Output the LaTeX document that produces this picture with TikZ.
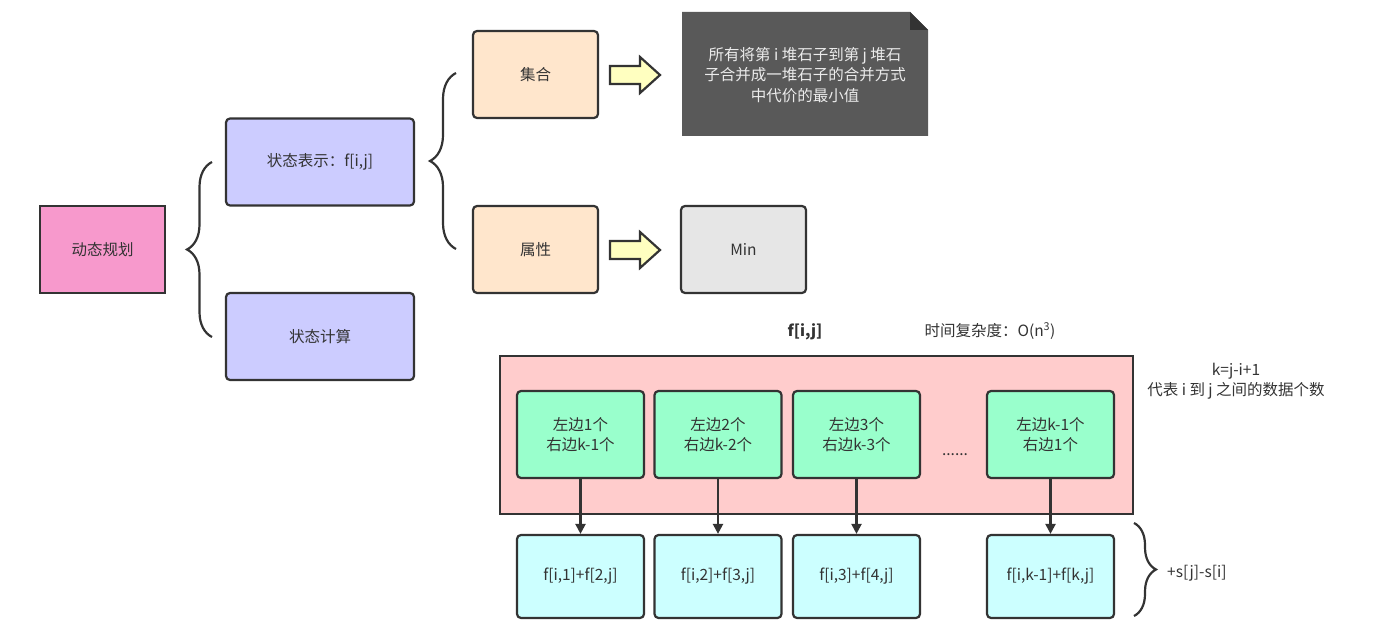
\documentclass[tikz,border=0pt]{standalone}
\usepackage{fontspec}
\setmainfont{Noto Sans CJK SC}
\usetikzlibrary{arrows.meta,decorations.pathreplacing}
\definecolor{ink}{HTML}{333333}
\definecolor{pinkA}{HTML}{F799CC}
\definecolor{lilac}{HTML}{CCCCFF}
\definecolor{peach}{HTML}{FFE6CC}
\definecolor{notegray}{HTML}{595959}
\definecolor{lightgray}{HTML}{E6E6E6}
\definecolor{rosebg}{HTML}{FFCCCC}
\definecolor{mint}{HTML}{99FFCC}
\definecolor{cyanA}{HTML}{CCFFFF}
\definecolor{pale}{HTML}{FFFFC0}
\tikzset{
  box/.style={draw=ink, line width=2.2pt, rounded corners=4pt, text=ink, align=center,
    minimum width=125pt, minimum height=87pt, inner sep=0pt, font=\fontsize{15.5}{20}\selectfont},
  widebox/.style={box, minimum width=188pt},
  brc/.style={draw=ink, line width=2.2pt, decorate, decoration={brace, amplitude=#1}},
  conn/.style={draw=ink, line width=2.2pt, -{Triangle[length=10pt,width=10pt]}},
  lbl/.style={text=ink, font=\fontsize{15.5}{20.5}\selectfont, align=center, inner sep=0pt},
  blockarrow/.style={draw=ink, line width=2.2pt, fill=pale, line join=miter}
}
\begin{document}
\begin{tikzpicture}[x=1pt,y=-1pt]
\useasboundingbox (0,0) rectangle (1387,636);
% left part
\node[box, rounded corners=0pt, fill=pinkA] (dp) at (102.5,249.5) {动态规划};
\node[widebox, fill=lilac] (rep) at (320,162) {状态表示：f[i,j]};
\node[widebox, fill=lilac] (calc) at (320,336.5) {状态计算};
\coordinate (b1s) at (212,337);
\coordinate (b1e) at (212,162);
\draw[brc=25pt] (b1s) -- (b1e);
\node[box, fill=peach] (set) at (535.5,74.5) {集合};
\node[box, fill=peach] (attr) at (535.5,249.5) {属性};
\coordinate (b2s) at (456,249);
\coordinate (b2e) at (456,73);
\draw[brc=26pt] (b2s) -- (b2e);
% block arrows
\draw[blockarrow] (610,66) -- (640,66) -- (640,57) -- (660,75) -- (640,93) -- (640,84) -- (610,84) -- cycle;
\draw[blockarrow] (610,241) -- (640,241) -- (640,232) -- (660,250) -- (640,268) -- (640,259) -- (610,259) -- cycle;
% note
\fill[notegray] (682,12) -- (910,12) -- (928,30) -- (928,136) -- (682,136) -- cycle;
\fill[ink] (910,12) -- (928,30) -- (910,30) -- cycle;
\node[lbl, text=white!92!black] (note) at (805,75) {所有将第 i 堆石子到第 j 堆石\\子合并成一堆石子的合并方式\\中代价的最小值};
\node[box, fill=lightgray] (min) at (743.5,249.5) {Min};
% titles
\node[lbl, font=\fontsize{15.5}{20}\selectfont\bfseries] (fij) at (805,332) {f[i,j]};
\node[lbl] (cplx) at (990,331) {时间复杂度：O(n\textsuperscript{3})};
% big pink container
\node[draw=ink, line width=2.2pt, fill=rosebg, minimum width=633pt, minimum height=158pt, inner sep=0pt] (cont) at (816.5,435) {};
\node[lbl] (kdef) at (1236,381) {k=j-i+1\\代表 i 到 j 之间的数据个数};
% green boxes
\node[box, minimum width=127pt, fill=mint] (g1) at (580.5,434.5) {左边1个\\右边k-1个};
\node[box, minimum width=127pt, fill=mint] (g2) at (718,434.5) {左边2个\\右边k-2个};
\node[box, minimum width=127pt, fill=mint] (g3) at (856.5,434.5) {左边3个\\右边k-3个};
\node[box, minimum width=127pt, fill=mint] (g4) at (1050.5,434.5) {左边k-1个\\右边1个};
\node[lbl] (dots) at (955,455) {......};
% bottom boxes
\node[box, minimum width=127pt, minimum height=83pt, fill=cyanA] (r1) at (580.5,576.5) {f[i,1]+f[2,j]};
\node[box, minimum width=127pt, minimum height=83pt, fill=cyanA] (r2) at (718,576.5) {f[i,2]+f[3,j]};
\node[box, minimum width=127pt, minimum height=83pt, fill=cyanA] (r3) at (856.5,576.5) {f[i,3]+f[4,j]};
\node[box, minimum width=127pt, minimum height=83pt, fill=cyanA] (r4) at (1050.5,576.5) {f[i,k-1]+f[k,j]};
\draw[conn] (g1.south) -- (r1.north);
\draw[conn] (g2.south) -- (r2.north);
\draw[conn] (g3.south) -- (r3.north);
\draw[conn] (g4.south) -- (r4.north);
% right brace
\coordinate (b3s) at (1134,523);
\coordinate (b3e) at (1134,616);
\draw[brc=22pt] (b3s) -- (b3e);
\node[lbl, anchor=west] (sum) at (1167,573) {+s[j]-s[i]};
\end{tikzpicture}
\end{document}
